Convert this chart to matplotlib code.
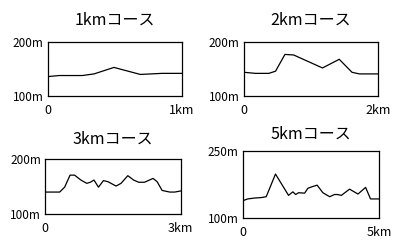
import matplotlib
matplotlib.use('Agg')
import matplotlib.pyplot as plt

plt.rcParams['font.family'] = ['Noto Sans CJK JP', 'DejaVu Sans']

# 1kmコース
c1_x = [0, 0.086, 0.259, 0.346, 0.494, 0.691, 0.852, 1.0]
c1_y = [136, 138, 138, 141, 153, 140, 142, 142]

# 2kmコース
c2_x = [0, 0.17, 0.37, 0.47, 0.61, 0.74, 1.17, 1.42, 1.61, 1.72, 2.0]
c2_y = [144, 142, 142, 146, 177, 176, 152, 168, 144, 141, 141]

# 3kmコース
c3_x = [0, 0.32, 0.43, 0.55, 0.65, 0.79, 0.92, 1.0, 1.08, 1.18, 1.29,
        1.39, 1.57, 1.68, 1.83, 1.96, 2.07, 2.2, 2.39, 2.48, 2.59, 2.76, 2.87, 3.0]
c3_y = [140, 140, 149, 171, 171, 162, 156, 158, 162, 149, 161, 159,
        151, 156, 170, 162, 158, 158, 165, 159, 143, 140, 140, 142]

# 5kmコース
c4_x = [0, 0.18, 0.43, 0.67, 0.86, 1.2, 1.68, 1.84, 1.94, 2.05, 2.27, 2.39,
        2.57, 2.73, 2.94, 3.19, 3.37, 3.47, 3.62, 3.92, 4.23, 4.51, 4.69, 5.0]
c4_y = [138, 142, 144, 145, 147, 198, 150, 158, 152, 156, 155, 166,
        170, 173, 156, 147, 152, 152, 150, 164, 153, 168, 142, 142]

panels = [
    ('1kmコース', c1_x, c1_y, 1, '1km', (100, 200), [0.118, 0.611, 0.332, 0.219], 0.917),
    ('2kmコース', c2_x, c2_y, 2, '2km', (100, 200), [0.604, 0.611, 0.332, 0.219], 0.917),
    ('3kmコース', c3_x, c3_y, 3, '3km', (100, 200), [0.112, 0.134, 0.335, 0.221], 0.437),
    ('5kmコース', c4_x, c4_y, 5, '5km', (100, 250), [0.601, 0.119, 0.337, 0.270], 0.457),
]

fig = plt.figure(figsize=(4.04, 2.47), dpi=100)

for title, xs, ys, length, xlab, (ymin, ymax), rect, ty in panels:
    ax = fig.add_axes(rect)
    ax.plot(xs, ys, color='black', lw=0.9)
    ax.set_xlim(0, length)
    ax.set_ylim(ymin, ymax)
    ax.set_xticks([0, length])
    ax.set_xticklabels(['0', xlab], fontsize=9)
    ax.set_yticks([ymin, ymax])
    ax.set_yticklabels([f'{ymin}m', f'{ymax}m'], fontsize=8.5)
    ax.tick_params(axis='x', length=0, pad=6)
    ax.tick_params(axis='y', length=0, pad=3)
    for s in ax.spines.values():
        s.set_linewidth(0.9)
    fig.text(rect[0] + rect[2] / 2, ty, title, ha='center', va='center', fontsize=11.5)

fig.savefig('out.png', dpi=100)
